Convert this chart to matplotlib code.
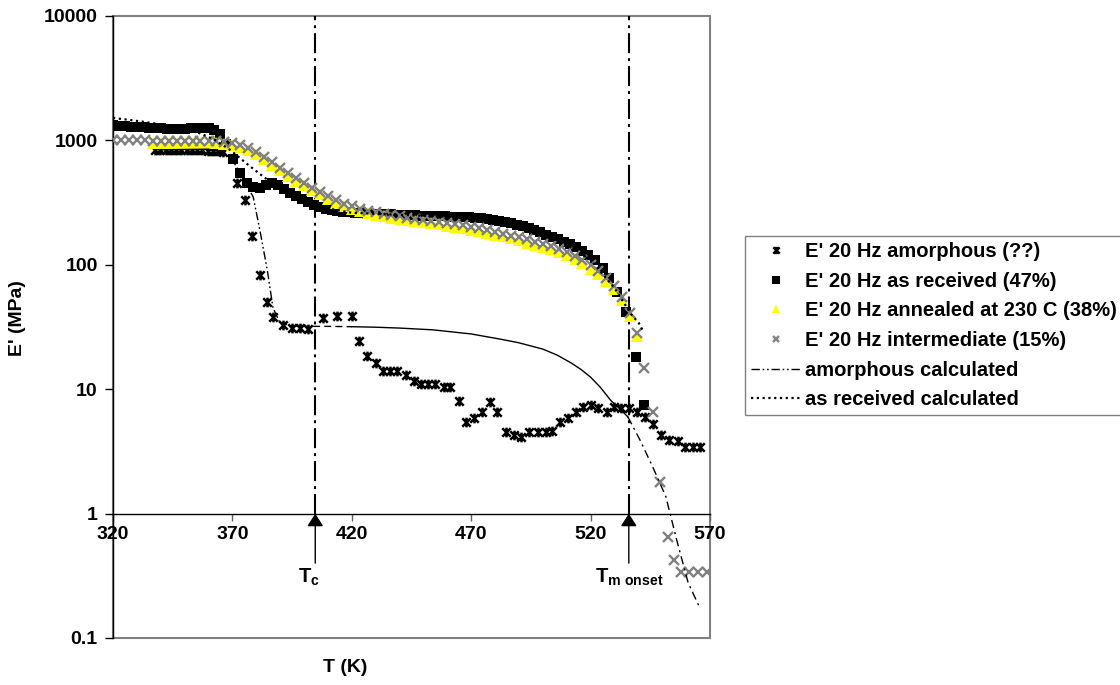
import matplotlib
matplotlib.use("Agg")
import matplotlib.pyplot as plt
from matplotlib.path import Path
from matplotlib.lines import Line2D
from matplotlib.patches import Rectangle
from matplotlib.ticker import FixedLocator, FixedFormatter, NullLocator

plt.rcParams['font.family'] = ['Liberation Sans', 'DejaVu Sans']
plt.rcParams['font.weight'] = 'bold'
plt.rcParams['mathtext.fontset'] = 'custom'
plt.rcParams['mathtext.rm'] = 'Liberation Sans:bold'
plt.rcParams['mathtext.bf'] = 'Liberation Sans:bold'
plt.rcParams['mathtext.it'] = 'Liberation Sans:bold'

# ---------------- data ----------------
amor_T = [337.6, 339.8, 342, 344.2, 346.4, 348.6, 350.8, 353, 355.2, 357.4, 359.6, 361.8, 364, 366.2,
          372, 375.4, 378.3, 381.7, 384.6, 387, 391, 395, 398.5, 401.8, 408, 414, 420,
          423, 426.5, 430, 433, 436, 439, 442.5, 446, 449, 452, 455, 458.5, 461,
          464.7, 468, 471, 474.7, 477.7, 481, 484.4, 487.8, 490.7, 494, 498, 501.2,
          504, 507, 510.4, 513.8, 517, 520, 523, 526.8, 529.7, 532.7, 536, 539.4,
          542.7, 546, 549.4, 552.8, 556.6, 559.5, 562.9, 565.8]
amor_E = [830, 830, 830, 832, 832, 832, 832, 832, 830, 830, 828, 825, 820, 800,
          455, 330, 170, 83, 50, 38, 33, 31, 31, 30.6, 37.6, 39, 39,
          24.5, 18.6, 16.3, 13.9, 13.9, 13.9, 13, 11.7, 11, 11, 11, 10.4, 10.4,
          8.1, 5.4, 5.9, 6.5, 7.9, 6.6, 4.5, 4.3, 4.1, 4.55, 4.55, 4.55,
          4.6, 5.4, 5.9, 6.6, 7.2, 7.4, 7.1, 6.6, 7.2, 7.1, 7.1, 6.5,
          6.0, 5.3, 4.3, 3.9, 3.8, 3.45, 3.45, 3.45]

recv_T = [320, 322.5, 325, 327.5, 330, 332.5, 335, 337.5, 340, 342.5, 345, 347.5, 350, 352.5, 355,
          357.5, 360, 362.5, 365, 367.5, 370.3, 373.3, 376.2, 378.7, 381.5, 384, 386.5, 389,
          391.5, 394, 396.5, 399, 401.5, 404, 406.5, 409, 411.5, 414, 416.5, 419, 421.5, 424,
          426.5, 429, 431.5, 434, 436.5, 439, 441.5, 444, 446.5, 449, 451.5, 454, 456.5, 459,
          461.5, 464, 466.5, 469, 471.5, 474, 476.5, 479, 481.5, 484, 486.5, 489, 491.5, 494,
          496.5, 499, 501.5, 504, 506.5, 509, 511.5, 514, 516.5, 519, 522, 525, 527.6, 531,
          534.8, 539, 542.3]
recv_E = [1320, 1310, 1300, 1290, 1280, 1270, 1260, 1255, 1250, 1245, 1240, 1240, 1245, 1255, 1265,
          1265, 1250, 1210, 1130, 930, 710, 550, 455, 420, 415, 440, 455, 435,
          405, 380, 355, 335, 318, 303, 292, 283, 276, 271, 267, 264, 262, 260,
          258, 257, 256, 255, 254, 253, 252, 251, 250, 249, 248, 247, 246, 245,
          244, 243, 242, 241, 239, 236, 233, 229, 225, 220, 215, 210, 204, 197,
          190, 182, 175, 168, 161, 153, 146, 139, 130, 120, 110, 95, 78, 60,
          42, 18.2, 7.4]

ann_T = [336.6, 340, 343.3, 346.6, 350, 353.3, 356.6, 360, 363.3, 366.6, 370, 373.3, 376.6, 380,
         383.3, 386.6, 390, 393.3, 396.6, 400, 403.3, 406.6, 410, 413.3, 416.6, 420, 423.3, 426.6,
         430, 433.3, 436.6, 440, 443.3, 446.6, 450, 453.3, 456.6, 460, 463.3, 466.6, 470, 473.3,
         476.6, 480, 483.3, 486.6, 490, 493.3, 496.6, 500, 503.3, 506.6, 510, 513.3, 516.6, 520,
         523.3, 526.6, 530, 533.3, 536.6, 539.4]
ann_E = [950, 950, 950, 950, 950, 950, 950, 950, 945, 935, 915, 880, 835, 775,
         710, 640, 575, 520, 475, 435, 400, 368, 340, 315, 297, 282, 270, 260,
         252, 245, 239, 233, 228, 224, 219, 215, 211, 206, 201, 197, 192, 186,
         181, 175, 169, 163, 157, 151, 145, 139, 133, 127, 119, 111, 103, 93,
         84, 74, 64, 52, 39, 27]

int_T = [320, 323.3, 326.6, 330, 333.3, 336.6, 340, 343.3, 346.6, 350, 353.3, 356.6, 360, 363.3,
         366.6, 370, 373.3, 376.6, 380, 383.3, 386.6, 390, 393.3, 396.6, 400, 403.3, 406.6, 410,
         413.3, 416.6, 420, 423.3, 426.6, 430, 433.3, 436.6, 440, 443.3, 446.6, 450, 453.3, 456.6,
         460, 463.3, 466.6, 470, 473.3, 476.6, 480, 483.3, 486.6, 490, 493.3, 496.6, 500, 503.3,
         506.6, 510, 513.3, 516.6, 520, 523.3, 526.6, 530, 533.3, 536.6, 539.4, 542.3, 546, 549,
         552.4, 555, 558, 561, 565, 568.7]
int_E = [1000, 1000, 1000, 1000, 1000, 995, 990, 990, 990, 990, 988, 985, 985, 980,
         965, 945, 910, 865, 805, 740, 670, 600, 545, 497, 455, 418, 385, 355,
         330, 311, 296, 283, 273, 264, 257, 250, 245, 240, 235, 230, 226, 222,
         217, 212, 207, 202, 196, 190, 184, 178, 172, 166, 160, 153, 147, 141,
         134, 126, 118, 109, 99, 89, 79, 68, 55, 41, 28.5, 14.9, 6.5, 1.8,
         0.65, 0.42, 0.34, 0.34, 0.34, 0.34]

acalc_T = [340, 350, 360, 365, 369.5, 373, 375.5, 378.7, 381.5, 384.6, 387, 390, 395, 400, 410, 420,
           430, 440, 454, 470, 482, 490, 500, 506, 512, 516, 520, 524, 528.5, 532, 535.6,
           541, 546.5, 551.5, 556, 560.8, 565.4]
acalc_E = [840, 845, 850, 810, 720, 560, 450, 352, 190, 91, 45, 34, 32.3, 32, 32, 31.8,
           31.5, 31, 30, 27.8, 25.3, 23.6, 21, 18.8, 16.2, 14.4, 12.5, 10.4, 8.1, 7.0, 6.0,
           3.8, 2.26, 1.37, 0.62, 0.28, 0.18]

rcalc_T = [320, 327, 334, 342, 350, 357, 363, 369, 376, 383, 390, 397, 405, 420, 440, 460, 480,
           500, 510, 520, 530, 537, 540.2, 541.9]
rcalc_E = [1515, 1460, 1400, 1330, 1250, 1130, 1000, 840, 650, 510, 410, 340, 295, 262, 252,
           244, 225, 175, 145, 110, 65, 40, 34, 29.5]

T_c = 404.7
T_m = 536.0

x_ticks = [320, 370, 420, 470, 520, 570]
y_ticks = [0.1, 1, 10, 100, 1000, 10000]
y_labels = ['0.1', '1', '10', '100', '1000', '10000']

labels = ["E' 20 Hz amorphous (??)", "E' 20 Hz as received (47%)",
          "E' 20 Hz annealed at 230 C (38%)", "E' 20 Hz intermediate (15%)",
          "amorphous calculated", "as received calculated"]

# ---------------- figure ----------------
W, H = 1120, 685
fig = plt.figure(figsize=(W / 100, H / 100), dpi=100)
ax = fig.add_axes([113 / W, 1 - 638 / H, (710 - 113) / W, (638 - 16) / H])
ax.set_yscale('log')
ax.set_xlim(320, 570)
ax.set_ylim(0.1, 10000)

# plot-area border (grey) and axes
ax.add_patch(Rectangle((0, 0), 1, 1, transform=ax.transAxes, fill=False,
                       edgecolor='#808080', lw=1.5, clip_on=False, zorder=0.5))
for s in ['top', 'right']:
    ax.spines[s].set_visible(False)
ax.spines['left'].set_color('black')
ax.spines['left'].set_linewidth(1.0)
ax.spines['bottom'].set_position(('data', 1))
ax.spines['bottom'].set_color('black')
ax.spines['bottom'].set_linewidth(1.0)

ax.xaxis.set_major_locator(FixedLocator(x_ticks))
ax.xaxis.set_minor_locator(NullLocator())
ax.set_xticklabels([str(t) for t in x_ticks])
ax.yaxis.set_major_locator(FixedLocator(y_ticks))
ax.yaxis.set_major_formatter(FixedFormatter(y_labels))
ax.yaxis.set_minor_locator(NullLocator())
ax.tick_params(axis='x', direction='out', length=5, width=1, color='#606060', pad=4, labelsize=14)
ax.tick_params(axis='y', direction='out', length=6, width=1, color='black', pad=5, labelsize=14)
for lab in ax.get_xticklabels() + ax.get_yticklabels():
    lab.set_fontweight('bold')

# vertical dash-dot lines
vstyle = (0, (9.6, 2.4, 1.4, 2.4))
ax.plot([T_c, T_c], [1, 10000], color='black', lw=1.5, linestyle=vstyle, zorder=2)
ax.plot([T_m, T_m], [1, 10000], color='black', lw=1.5, linestyle=vstyle, zorder=2)

# star marker (X with vertical bar)
star = Path([(-1, -1), (1, 1), (-1, 1), (1, -1), (0, -1.15), (0, 1.15)],
            [Path.MOVETO, Path.LINETO, Path.MOVETO, Path.LINETO, Path.MOVETO, Path.LINETO])

h1, = ax.plot(amor_T, amor_E, linestyle='none', marker=star, markersize=7,
              markeredgewidth=1.8, color='black', zorder=3)
h2, = ax.plot(recv_T, recv_E, linestyle='none', marker='s', markersize=7,
              color='black', markeredgewidth=0, zorder=4)
h3, = ax.plot(ann_T, ann_E, linestyle='none', marker='^', markersize=8.5,
              color='#FFFF00', markeredgewidth=0, zorder=5)
h4, = ax.plot(int_T, int_E, linestyle='none', marker='x', markersize=6.5,
              markeredgewidth=1.7, color='#808080', zorder=6)

# amorphous calculated curve (segments rendered with different dash look)
dashdotdot = (0, (6, 2, 1.2, 2, 1.2, 2))
segs = [(0, 5, '-'), (4, 12, dashdotdot), (11, 16, (0, (5, 3))), (15, 31, '-'),
        (30, len(acalc_T), (0, (6, 3, 1.5, 3)))]
for a, b, ls in segs:
    ax.plot(acalc_T[a:b], acalc_E[a:b], color='black', lw=1.0, linestyle=ls, zorder=7)

# as received calculated curve
ax.plot(rcalc_T, rcalc_E, color='black', lw=1.6, linestyle=(0, (1.0, 1.6)), zorder=7)

# arrows and labels for Tc and Tm onset
for tx in (T_c, T_m):
    ax.annotate('', xy=(tx, 1), xytext=(tx, 0.40), xycoords='data',
                arrowprops=dict(arrowstyle='-|>,head_length=0.55,head_width=0.35',
                                color='black', lw=1.0, shrinkA=0, shrinkB=0,
                                mutation_scale=14), annotation_clip=False)
ax.text(T_c - 2.5, 0.279, r'$\mathbf{T}_{\mathbf{c}}$', ha='center', va='baseline',
        fontsize=14.5)
ax.text(T_m, 0.279, r'$\mathbf{T}_{\mathbf{m\ onset}}$', ha='center', va='baseline',
        fontsize=14.5)

# axis labels
fig.text(18 / W, 1 - 318 / H, "E' (MPa)", rotation=90, ha='center', va='center',
         fontsize=14, fontweight='bold')
fig.text(345 / W, 1 - 668 / H, "T (K)", ha='center', va='center',
         fontsize=14, fontweight='bold')

# legend
l5 = Line2D([], [], color='black', lw=1.0, linestyle=(0, (6, 2, 1.2, 2, 1.2, 2)))
l6 = Line2D([], [], color='black', lw=1.6, linestyle=(0, (1.0, 1.6)))
leg = fig.legend([h1, h2, h3, h4, l5, l6], labels, loc='upper left',
                 bbox_to_anchor=(745 / W, 1 - 236 / H), bbox_transform=fig.transFigure,
                 frameon=True, fancybox=False, shadow=False, borderaxespad=0,
                 borderpad=0.3, handlelength=2.5, handletextpad=0.2, labelspacing=0.53,
                 markerscale=0.75, prop={'weight': 'bold', 'size': 14.5})
leg.get_frame().set_edgecolor('#606060')
leg.get_frame().set_linewidth(1.0)

fig.savefig('out.png', dpi=100)
